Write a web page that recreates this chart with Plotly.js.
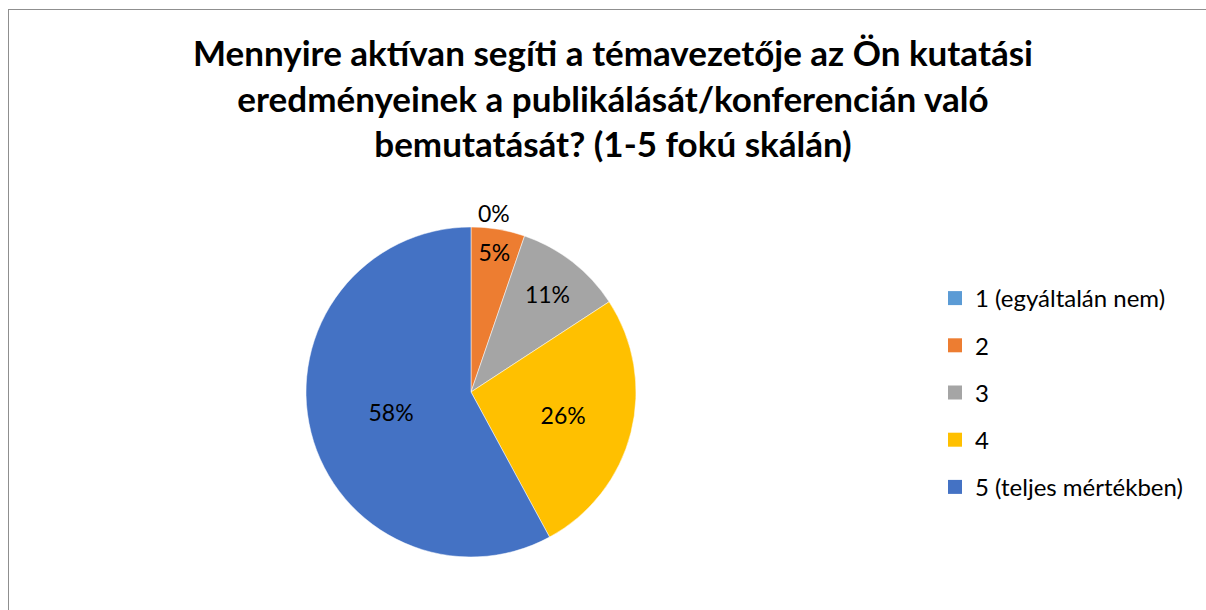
<!DOCTYPE html>
<html><head><meta charset="utf-8">
<script src="https://cdn.plot.ly/plotly-3.0.1.min.js"></script>
<style>
body{margin:0;background:#fff;}
#frame{position:absolute;left:8px;top:9px;width:1300px;height:700px;border-left:1.5px solid #8f8f8f;border-top:1.5px solid #8f8f8f;pointer-events:none;}
#chart{position:absolute;left:0;top:0;width:1206px;height:610px;}
</style></head>
<body>
<div id="chart"></div>
<div id="frame"></div>
<script>
const categories = ['1 (egyáltalán nem)', '2', '3', '4', '5 (teljes mértékben)'];
const counts = [0, 1, 2, 5, 11];
const colors = ['#5B9BD5', '#ED7D31', '#A5A5A5', '#FFC000', '#4472C4'];
const titleText = 'Mennyire aktívan segíti a témavezetője az Ön kutatási<br>eredményeinek a publikálását/konferencián való<br>bemutatását? (1-5 fokú skálán)';

const font = 'Lato, "Open Sans", sans-serif';

const pie = {
  type: 'pie',
  labels: categories,
  values: counts,
  marker: {colors: colors, line: {color: '#ffffff', width: 0.5}},
  sort: false,
  direction: 'clockwise',
  rotation: 0,
  texttemplate: '%{percent:.0%}',
  textposition: counts.map(v => v === 0 ? 'outside' : 'inside'),
  insidetextorientation: 'horizontal',
  textfont: {family: font, size: 23, color: '#000000'},
  domain: {x: [306/1206, 636/1206], y: [53/610, 383/610]},
  showlegend: false,
  hoverinfo: 'label+percent'
};

const legendTraces = categories.map((c, i) => ({
  type: 'scatter', mode: 'markers', x: [null], y: [null],
  name: c, legendgroup: 'g' + i,
  marker: {symbol: 'square', size: 14, color: colors[i], line: {width: 0}},
  hoverinfo: 'skip'
}));

const layout = {
  width: 1206, height: 610,
  margin: {l: 0, r: 0, t: 0, b: 0},
  paper_bgcolor: '#ffffff', plot_bgcolor: '#ffffff',
  title: {
    text: titleText,
    font: {family: font, size: 35, color: '#000000', weight: 'bold'},
    x: 613/1206, xanchor: 'center',
    y: 1 - 66/610, yanchor: 'top'
  },
  xaxis: {visible: false}, yaxis: {visible: false},
  showlegend: true,
  legend: {
    x: 935/1206, xanchor: 'left', y: 1 - 276/610, yanchor: 'top',
    font: {family: font, size: 24, color: '#000000'},
    traceorder: 'grouped', tracegroupgap: 13, itemwidth: 30,
    bgcolor: 'rgba(0,0,0,0)'
  }
};

Plotly.newPlot('chart', [pie, ...legendTraces], layout, {displayModeBar: false, staticPlot: true});
</script>
</body></html>
